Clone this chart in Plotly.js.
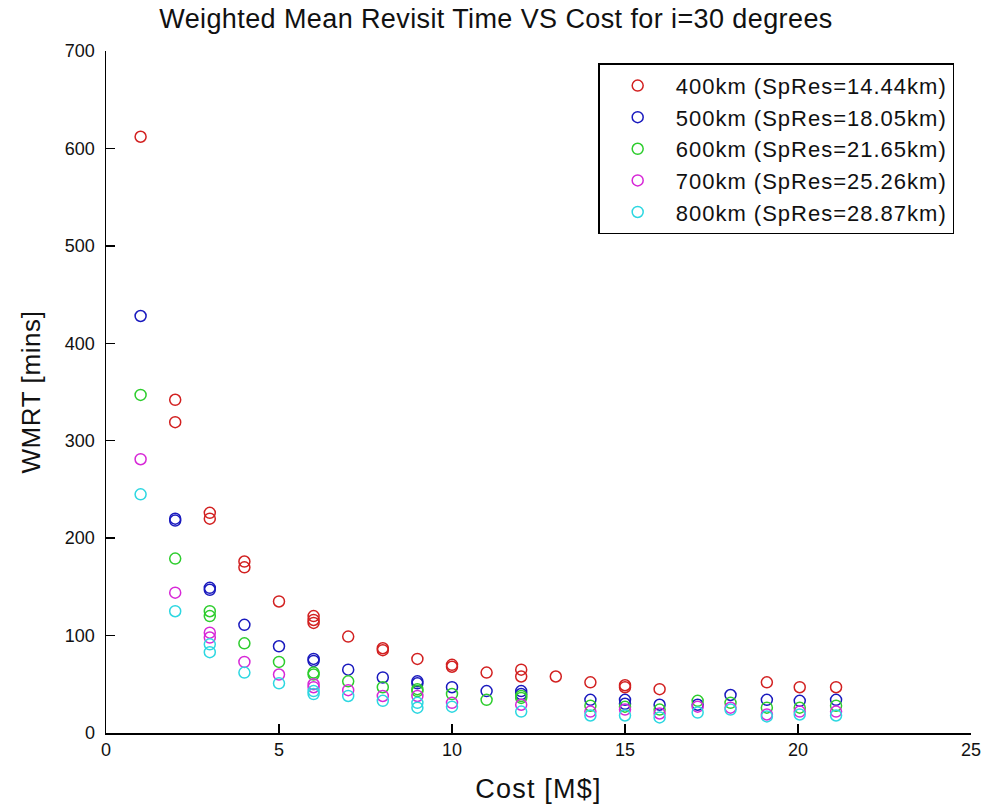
<!DOCTYPE html>
<html>
<head>
<meta charset="utf-8">
<script src="https://cdn.plot.ly/plotly-3.0.1.min.js"></script>
<style>
html,body{margin:0;padding:0;background:#fff;}
#chart{width:988px;height:809px;}
text.legendtext{letter-spacing:1px;}
text.gtitle{letter-spacing:0.4px;}
text.xtitle{letter-spacing:1.2px;}
text.ytitle{letter-spacing:0.6px;}
</style>
</head>
<body>
<div id="chart"></div>
<script>
// Series names
const seriesNames = [
  "400km (SpRes=14.44km)",
  "500km (SpRes=18.05km)",
  "600km (SpRes=21.65km)",
  "700km (SpRes=25.26km)",
  "800km (SpRes=28.87km)"
];

// 400 km
const cost400 = [1, 2, 2, 3, 3, 4, 4, 5, 6, 6, 6, 7, 8, 8, 9, 10, 10, 11, 12, 12, 13, 14, 15, 15, 16, 19.1, 20.05, 21.1];
const wmrt400 = [612, 342, 319, 226, 220, 176, 170, 135, 120, 116, 113, 99, 87, 85, 76, 70, 68, 62, 65, 58, 58, 52, 49, 47, 45, 52, 47, 47];

// 500 km
const cost500 = [1, 2, 2, 3, 3, 4, 5, 6, 6, 7, 8, 9, 9, 10, 11, 12, 12, 14, 15, 15, 16, 17.1, 18.05, 19.1, 20.05, 21.1];
const wmrt500 = [428, 220, 218, 149, 147, 111, 89, 76, 74, 65, 57, 53, 51, 47, 43, 43, 40, 34, 34, 30, 29, 29, 39, 34, 33, 34];

// 600 km
const cost600 = [1, 2, 3, 3, 4, 5, 6, 6, 7, 8, 9, 9, 10, 11, 12, 12, 14, 15, 16, 17.1, 18.05, 19.1, 20.05, 21.1];
const wmrt600 = [347, 179, 125, 120, 92, 73, 62, 60, 53, 47, 45, 43, 40, 34, 38, 36, 28, 27, 24, 33, 31, 26, 26, 28];

// 700 km
const cost700 = [1, 2, 3, 3, 4, 5, 6, 6, 7, 8, 9, 10, 12, 14, 15, 16, 17.1, 18.05, 19.1, 20.05, 21.1];
const wmrt700 = [281, 144, 103, 98, 73, 60, 50, 47, 44, 38, 38, 31, 29, 22, 24, 20, 27, 26, 19, 22, 22];

// 800 km
const cost800 = [1, 2, 3, 3, 4, 5, 6, 6, 7, 8, 9, 9, 10, 12, 14, 15, 16, 17.1, 18.05, 19.1, 20.05, 21.1];
const wmrt800 = [245, 125, 91, 83, 62, 51, 43, 40, 38, 33, 31, 26, 27, 22, 18, 18, 16, 21, 24, 17, 19, 18];

const xTicks = [0, 5, 10, 15, 20, 25];
const yTicks = [0, 100, 200, 300, 400, 500, 600, 700];

const colors = ["rgb(210,32,32)", "rgb(25,25,190)", "rgb(45,205,45)", "rgb(215,40,215)", "rgb(45,215,225)"];
const xs = [cost400, cost500, cost600, cost700, cost800];
const ys = [wmrt400, wmrt500, wmrt600, wmrt700, wmrt800];

const traces = seriesNames.map((name, i) => ({
  type: "scatter",
  mode: "markers",
  name: name,
  x: xs[i],
  y: ys[i],
  marker: {symbol: "circle-open", size: 11, color: colors[i], line: {width: 1.5, color: colors[i]}}
}));

const font = "Liberation Sans, Arial, sans-serif";
const layout = {
  width: 988,
  height: 809,
  paper_bgcolor: "#fff",
  plot_bgcolor: "#fff",
  margin: {l: 106, r: 17, t: 51, b: 76},
  font: {family: font, color: "#111", size: 18},
  title: {text: "Weighted Mean Revisit Time VS Cost for i=30 degrees", font: {family: font, size: 27, color: "#111"}, x: 0.502, xanchor: "center", y: 0.977, yanchor: "middle"},
  xaxis: {
    range: [0, 25], tickvals: xTicks, ticktext: xTicks.map(String),
    ticks: "inside", ticklen: 9, tickwidth: 1.5, tickcolor: "#000",
    showline: true, linecolor: "#000", linewidth: 1.5,
    showgrid: false, zeroline: false, mirror: false,
    tickfont: {size: 18, family: font, color: "#111"},
    title: {text: "Cost [M$]", font: {size: 27, family: font, color: "#111"}, standoff: 20}
  },
  yaxis: {
    range: [0, 700], tickvals: yTicks, ticktext: yTicks.map(String),
    ticks: "inside", ticklen: 9, tickwidth: 1.5, tickcolor: "#000",
    showline: true, linecolor: "#000", linewidth: 1.5,
    showgrid: false, zeroline: false, mirror: false,
    ticklabelstandoff: 6,
    tickfont: {size: 18, family: font, color: "#111"},
    title: {text: "WMRT [mins]", font: {size: 26, family: font, color: "#111"}, standoff: 17}
  },
  showlegend: true,
  legend: {
    x: 0.569, xanchor: "left", y: 0.982, yanchor: "top",
    bgcolor: "#fff", bordercolor: "#000", borderwidth: 1.5,
    font: {size: 22, family: font, color: "#111"},
    itemwidth: 66,
    entrywidth: 372, entrywidthmode: "pixels"
  }
};

Plotly.newPlot("chart", traces, layout, {displayModeBar: false, staticPlot: true});
</script>
</body>
</html>
